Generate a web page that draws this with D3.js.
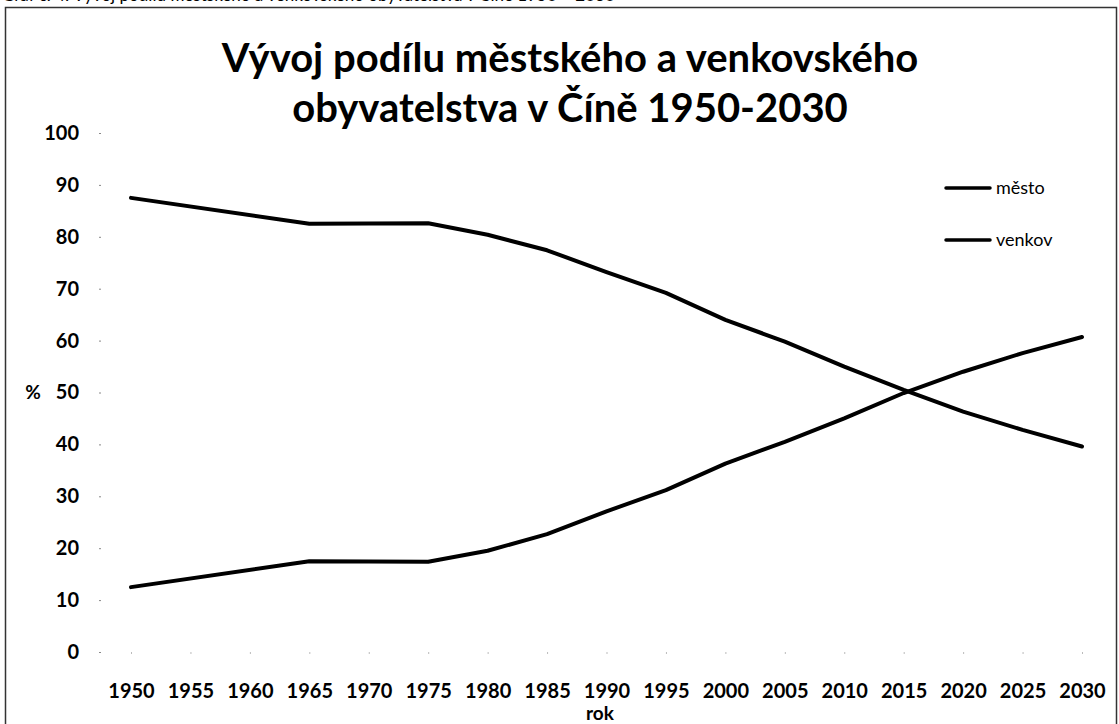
<!DOCTYPE html>
<html>
<head>
<meta charset="utf-8">
<script src="https://cdn.jsdelivr.net/npm/d3@7"></script>
<style>
  body { margin: 0; background: #fff; }
  text { font-family: Lato, "Open Sans", sans-serif; fill: #000; }
</style>
</head>
<body>
<div id="chart"></div>
<script>
const svgWidth = 1119;
const svgHeight = 724;

// data (null = no value, line is joined across)
const years = [1950, 1955, 1960, 1965, 1970, 1975, 1980, 1985, 1990, 1995, 2000, 2005, 2010, 2015, 2020, 2025, 2030];
const mesto = [12.5, null, null, 17.5, null, 17.4, 19.5, 22.7, 27.1, 31.2, 36.3, 40.5, 45.0, 49.9, 54.0, 57.6, 60.7];
const venkov = [87.5, null, null, 82.5, null, 82.6, 80.4, 77.4, 73.2, 69.2, 64.0, 59.8, 55.0, 50.5, 46.3, 42.8, 39.6];
const yTicks = [0, 10, 20, 30, 40, 50, 60, 70, 80, 90, 100];
const seriesNames = ["město", "venkov"];

const svg = d3.select("#chart")
  .append("svg")
  .attr("width", svgWidth)
  .attr("height", svgHeight);

// caption above the chart, cut off by the top edge like in the scan
svg.append("text")
  .attr("x", 2)
  .attr("y", 1)
  .attr("font-size", 17)
  .attr("fill", "#333")
  .text("Graf č. 4: Vývoj podílu městského a venkovského obyvatelstva v Číně 1950 – 2030");

// frame
svg.append("rect")
  .attr("x", 5.5)
  .attr("y", 7.5)
  .attr("width", 1111)
  .attr("height", 730)
  .attr("fill", "none")
  .attr("stroke", "#333")
  .attr("stroke-width", 1.5);

const x = d3.scalePoint()
  .domain(years)
  .range([131, 1082]);

const y = d3.scaleLinear()
  .domain([0, 100])
  .range([652, 133]);

// y axis
const yAxis = svg.append("g")
  .attr("transform", "translate(101,0)")
  .call(d3.axisLeft(y).tickValues(yTicks).tickSize(2).tickPadding(20));
yAxis.select(".domain").remove();
yAxis.selectAll(".tick line").attr("stroke", "#888");
yAxis.selectAll(".tick text")
  .attr("font-size", 20)
  .attr("font-weight", "bold")
  .attr("font-family", "Lato, sans-serif");

// x axis
const xAxis = svg.append("g")
  .attr("transform", "translate(0,652)")
  .call(d3.axisBottom(x).tickSize(2).tickPadding(30));
xAxis.select(".domain").remove();
xAxis.selectAll(".tick line").attr("stroke", "#bbb");
xAxis.selectAll(".tick text")
  .attr("font-size", 20)
  .attr("font-weight", "bold")
  .attr("font-family", "Lato, sans-serif");

// axis titles
svg.append("text")
  .attr("x", 33)
  .attr("y", 399)
  .attr("text-anchor", "middle")
  .attr("font-size", 19)
  .attr("font-weight", "bold")
  .text("%");

svg.append("text")
  .attr("x", 600)
  .attr("y", 720)
  .attr("text-anchor", "middle")
  .attr("font-size", 19)
  .attr("font-weight", "bold")
  .text("rok");

// title
const title = svg.append("text")
  .attr("text-anchor", "middle")
  .attr("font-size", 40)
  .attr("font-weight", "bold");
title.append("tspan").attr("x", 570).attr("y", 72).text("Vývoj podílu městského a venkovského");
title.append("tspan").attr("x", 570).attr("y", 122).text("obyvatelstva v Číně 1950-2030");

// lines
const line = d3.line()
  .x(d => x(d.year))
  .y(d => y(d.value));

[mesto, venkov].forEach(function (values) {
  const pts = years.map((yr, i) => ({ year: yr, value: values[i] }))
    .filter(d => d.value !== null);
  svg.append("path")
    .datum(pts)
    .attr("d", line)
    .attr("fill", "none")
    .attr("stroke", "#000")
    .attr("stroke-width", 4)
    .attr("stroke-linecap", "round")
    .attr("stroke-linejoin", "round");
});

// legend
const legend = svg.append("g");
seriesNames.forEach(function (name, i) {
  const ly = 188 + i * 52;
  legend.append("line")
    .attr("x1", 946).attr("x2", 990)
    .attr("y1", ly).attr("y2", ly)
    .attr("stroke", "#000")
    .attr("stroke-width", 3.5)
    .attr("stroke-linecap", "round");
  legend.append("text")
    .attr("x", 996)
    .attr("y", ly + 6)
    .attr("font-size", 18)
    .text(name);
});
</script>
</body>
</html>
